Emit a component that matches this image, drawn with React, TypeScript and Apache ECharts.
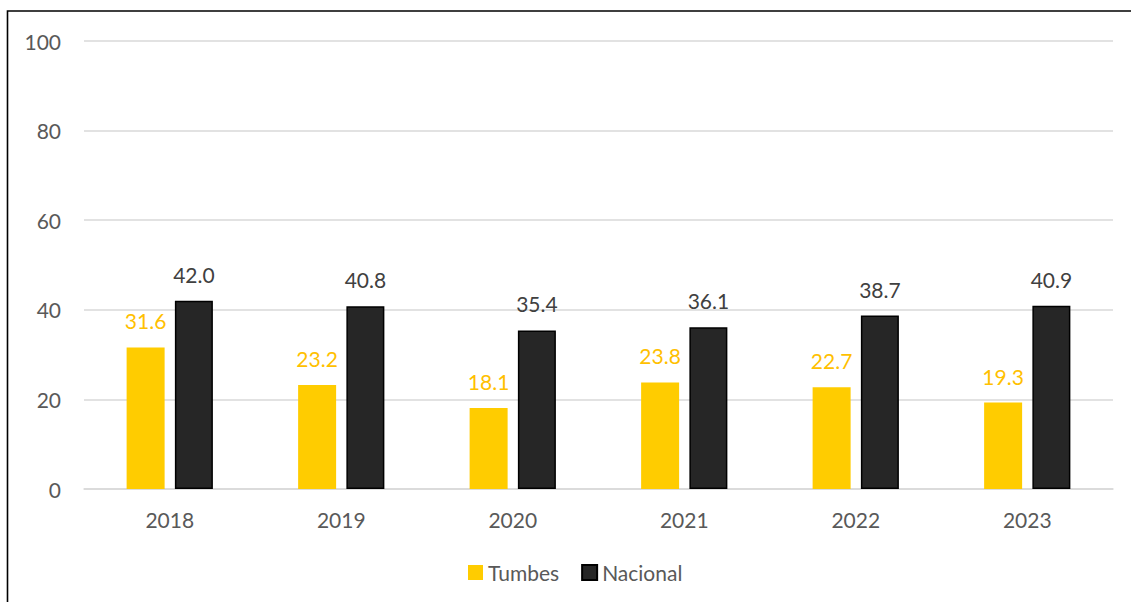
import React, { useEffect, useRef } from "react";
import * as echarts from "echarts";

const categories = ["2018", "2019", "2020", "2021", "2022", "2023"];
const tumbes = [31.6, 23.2, 18.1, 23.8, 22.7, 19.3];
const nacional = [42.0, 40.8, 35.4, 36.1, 38.7, 40.9];
const yTicks = { min: 0, max: 100, interval: 20 };

const FONT = "Lato";
const FS = 21;

export default function App() {
  const ref = useRef<HTMLDivElement>(null);
  useEffect(() => {
    if (!ref.current) return;
    const chart = echarts.init(ref.current, undefined, { renderer: "svg" });
    chart.setOption({
      animation: false,
      backgroundColor: "#ffffff",
      textStyle: { fontFamily: FONT },
      graphic: [
        {
          type: "rect",
          shape: { x: 7.5, y: 11, width: 1400, height: 900 },
          style: { fill: "none", stroke: "#000000", lineWidth: 1.6 },
          silent: true,
        },
      ],
      grid: { left: 84, right: 18, top: 41, bottom: 113, containLabel: false },
      legend: {
        data: ["Tumbes", "Nacional"],
        left: 463,
        top: 557,
        icon: "rect",
        itemWidth: 15,
        itemHeight: 15,
        itemGap: 22,
        textStyle: { fontFamily: FONT, fontSize: FS, color: "#595959", padding: [0, 0, 0, 0] },
      },
      xAxis: {
        type: "category",
        data: categories,
        axisTick: { show: false },
        axisLine: { lineStyle: { color: "#D9D9D9", width: 1.5 } },
        axisLabel: { color: "#595959", fontSize: FS, fontFamily: FONT, margin: 20 },
      },
      yAxis: {
        type: "value",
        min: yTicks.min,
        max: yTicks.max,
        interval: yTicks.interval,
        axisLine: { show: false },
        axisTick: { show: false },
        axisLabel: { color: "#595959", fontSize: FS, fontFamily: FONT, margin: 23 },
        splitLine: { lineStyle: { color: "#D9D9D9", width: 1.5 } },
      },
      series: [
        {
          name: "Tumbes",
          type: "bar",
          data: tumbes,
          barWidth: 38,
          barGap: "27%",
          itemStyle: { color: "#FFCC00" },
          label: {
            show: true,
            position: "top",
            distance: 16,
            color: "#FFC000",
            fontSize: FS,
            fontFamily: FONT,
            formatter: (p: any) => Number(p.value).toFixed(1),
          },
        },
        {
          name: "Nacional",
          type: "bar",
          data: nacional,
          barWidth: 38,
          itemStyle: { color: "#262626", borderColor: "#000000", borderWidth: 1.5 },
          label: {
            show: true,
            position: "top",
            distance: 16,
            color: "#404040",
            fontSize: FS,
            fontFamily: FONT,
            formatter: (p: any) => Number(p.value).toFixed(1),
          },
        },
      ],
    });
    return () => chart.dispose();
  }, []);
  return (
    <div
      ref={ref}
      style={{ position: "fixed", left: 0, top: 0, width: 1131, height: 602 }}
    />
  );
}
